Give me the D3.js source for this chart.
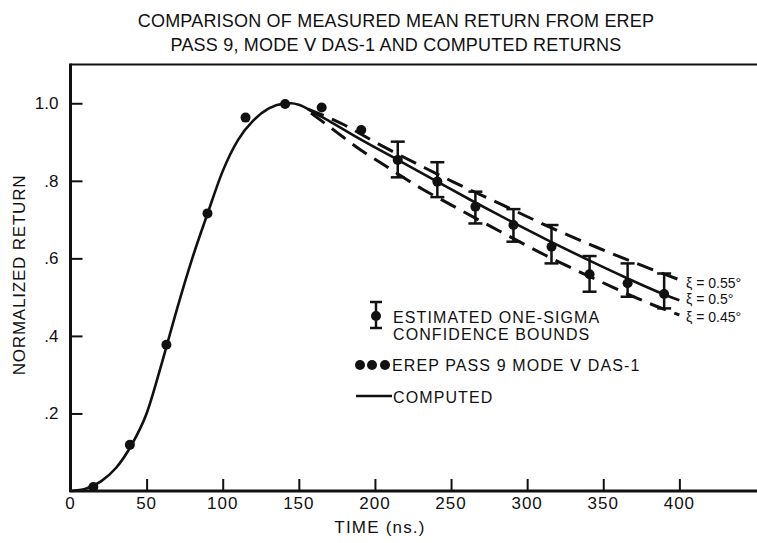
<!DOCTYPE html>
<html>
<head>
<meta charset="utf-8">
<script src="https://cdn.jsdelivr.net/npm/d3@7"></script>
<style>
  body { margin: 0; background: #fff; }
  svg text { font-family: "Liberation Sans", Arial, sans-serif; fill: #111; }
</style>
</head>
<body>
<div id="chart"></div>
<script>
// tick values
const xTicks = [0, 50, 100, 150, 200, 250, 300, 350, 400];
const yTicks = [0.2, 0.4, 0.6, 0.8, 1.0];
const yTickLabels = [".2", ".4", ".6", ".8", "1.0"];

// measured mean return (EREP pass 9, mode V, DAS-1)
const measT = [15, 39, 63, 90, 115, 141, 165, 191, 215, 241, 266, 291, 316, 341, 366, 390];
const measV = [0.010, 0.119, 0.377, 0.716, 0.963, 0.998, 0.989, 0.931, 0.854, 0.798, 0.733, 0.686, 0.630, 0.559, 0.536, 0.508];

// one-sigma confidence bounds
const barT  = [215, 241, 266, 291, 316, 341, 366, 390];
const barLo = [0.809, 0.758, 0.690, 0.643, 0.587, 0.514, 0.501, 0.471];
const barHi = [0.901, 0.848, 0.772, 0.727, 0.686, 0.606, 0.587, 0.561];

// computed return, xi = 0.5 deg
const compT = [0, 10, 20, 30, 40, 50, 60, 70, 80, 90, 100, 110, 120, 130, 140, 145, 150, 160, 170, 190, 215, 240, 265, 290, 315, 340, 365, 390, 400];
const compV = [0, 0.006, 0.025, 0.06, 0.118, 0.2, 0.33, 0.47, 0.6, 0.715, 0.825, 0.905, 0.955, 0.986, 0.999, 1.0, 0.996, 0.976, 0.954, 0.908, 0.854, 0.8, 0.746, 0.694, 0.644, 0.596, 0.55, 0.507, 0.492];

// computed, xi = 0.55 deg
const upT = [156, 180, 200, 233, 251, 282, 313, 346, 368, 391, 400];
const upV = [0.985, 0.944, 0.9, 0.833, 0.798, 0.741, 0.684, 0.628, 0.593, 0.558, 0.545];

// computed, xi = 0.45 deg
const lowT = [158, 175, 189, 204, 231, 250, 282, 312, 355, 382, 400];
const lowV = [0.975, 0.925, 0.884, 0.846, 0.779, 0.738, 0.67, 0.608, 0.528, 0.481, 0.454];

const curveLabels = ["\u03BE = 0.55\u00B0", "\u03BE = 0.5\u00B0", "\u03BE = 0.45\u00B0"];

const W = 757, H = 543;
const svg = d3.select("#chart").append("svg")
    .attr("width", W)
    .attr("height", H);

svg.append("rect").attr("width", W).attr("height", H).attr("fill", "#fff");

const x = d3.scaleLinear().domain([0, 451]).range([70.5, 757]);
const y = d3.scaleLinear().domain([0, 1.1]).range([491, 64.5]);

const ink = "#111";

// frame: top line and axes
svg.append("line")
    .attr("x1", x(0)).attr("x2", W)
    .attr("y1", y(1.1)).attr("y2", y(1.1))
    .attr("stroke", ink).attr("stroke-width", 2);

// x axis, ticks pointing inward
const xAxis = svg.append("g")
    .attr("transform", "translate(0," + y(0) + ")")
    .call(d3.axisTop(x).tickValues(xTicks).tickSize(12).tickFormat(""));
xAxis.select(".domain").remove();
xAxis.selectAll("line").attr("stroke", ink).attr("stroke-width", 2);
svg.append("line")
    .attr("x1", x(0) - 1).attr("x2", W)
    .attr("y1", y(0)).attr("y2", y(0))
    .attr("stroke", ink).attr("stroke-width", 3);

svg.append("g").selectAll("text")
    .data(xTicks)
    .enter().append("text")
    .attr("x", d => x(d))
    .attr("y", y(0) + 18)
    .attr("text-anchor", "middle")
    .style("font-size", "17px")
    .style("letter-spacing", "1px")
    .text(d => d);

// y axis
const yAxis = svg.append("g")
    .attr("transform", "translate(" + x(0) + ",0)")
    .call(d3.axisRight(y).tickValues(yTicks).tickSize(12).tickFormat(""));
yAxis.select(".domain").remove();
yAxis.selectAll("line").attr("stroke", ink).attr("stroke-width", 2);
svg.append("line")
    .attr("x1", x(0)).attr("x2", x(0))
    .attr("y1", y(1.1) - 1).attr("y2", y(0) + 1)
    .attr("stroke", ink).attr("stroke-width", 3);

svg.append("g").selectAll("text")
    .data(yTicks)
    .enter().append("text")
    .attr("x", x(0) - 12)
    .attr("y", d => y(d) + 6)
    .attr("text-anchor", "end")
    .style("font-size", "17px")
    .text((d, i) => yTickLabels[i]);

// titles
svg.append("text")
    .attr("x", 396).attr("y", 27)
    .attr("text-anchor", "middle")
    .style("font-size", "18px")
    .style("letter-spacing", "0.2px")
    .text("COMPARISON OF MEASURED MEAN RETURN FROM EREP");
svg.append("text")
    .attr("x", 396).attr("y", 51)
    .attr("text-anchor", "middle")
    .style("font-size", "18px")
    .style("letter-spacing", "0.2px")
    .text("PASS 9, MODE \u2164 DAS-1 AND COMPUTED RETURNS");

svg.append("text")
    .attr("x", 380).attr("y", 533)
    .attr("text-anchor", "middle")
    .style("font-size", "17px")
    .style("letter-spacing", "1.2px")
    .text("TIME (ns.)");

svg.append("text")
    .attr("transform", "translate(25,275) rotate(-90)")
    .attr("text-anchor", "middle")
    .style("font-size", "17px")
    .style("letter-spacing", "0.8px")
    .text("NORMALIZED RETURN");

// curves
const line = d3.line().x(d => x(d[0])).y(d => y(d[1])).curve(d3.curveMonotoneX);

svg.append("path")
    .datum(d3.zip(compT, compV))
    .attr("d", line)
    .attr("fill", "none").attr("stroke", ink).attr("stroke-width", 2.6);

svg.append("path")
    .datum(d3.zip(upT, upV))
    .attr("d", line)
    .attr("fill", "none").attr("stroke", ink).attr("stroke-width", 3)
    .attr("stroke-dasharray", "17,9");

svg.append("path")
    .datum(d3.zip(lowT, lowV))
    .attr("d", line)
    .attr("fill", "none").attr("stroke", ink).attr("stroke-width", 3)
    .attr("stroke-dasharray", "17,9");

// error bars
const bars = svg.append("g").selectAll("g")
    .data(d3.range(barT.length))
    .enter().append("g");
bars.append("line")
    .attr("x1", i => x(barT[i])).attr("x2", i => x(barT[i]))
    .attr("y1", i => y(barHi[i])).attr("y2", i => y(barLo[i]))
    .attr("stroke", ink).attr("stroke-width", 2.5);
bars.append("line")
    .attr("x1", i => x(barT[i]) - 7).attr("x2", i => x(barT[i]) + 7)
    .attr("y1", i => y(barHi[i])).attr("y2", i => y(barHi[i]))
    .attr("stroke", ink).attr("stroke-width", 2.5);
bars.append("line")
    .attr("x1", i => x(barT[i]) - 7).attr("x2", i => x(barT[i]) + 7)
    .attr("y1", i => y(barLo[i])).attr("y2", i => y(barLo[i]))
    .attr("stroke", ink).attr("stroke-width", 2.5);

// measured points
svg.append("g").selectAll("circle")
    .data(d3.zip(measT, measV))
    .enter().append("circle")
    .attr("cx", d => x(d[0]))
    .attr("cy", d => y(d[1]))
    .attr("r", 5)
    .attr("fill", ink);

// curve labels
svg.append("g").selectAll("text")
    .data(curveLabels)
    .enter().append("text")
    .attr("x", 686)
    .attr("y", (d, i) => [288, 304, 322][i])
    .style("font-size", "14px")
    .text(d => d);

// legend
const lg = svg.append("g");
lg.append("line").attr("x1", 376).attr("x2", 376).attr("y1", 302).attr("y2", 328)
    .attr("stroke", ink).attr("stroke-width", 2.5);
lg.append("line").attr("x1", 370).attr("x2", 382).attr("y1", 302).attr("y2", 302)
    .attr("stroke", ink).attr("stroke-width", 2.5);
lg.append("line").attr("x1", 370).attr("x2", 382).attr("y1", 328).attr("y2", 328)
    .attr("stroke", ink).attr("stroke-width", 2.5);
lg.append("circle").attr("cx", 376).attr("cy", 316).attr("r", 5).attr("fill", ink);
lg.append("text").attr("x", 393).attr("y", 323).style("font-size", "16px").style("letter-spacing", "1.1px")
    .text("ESTIMATED ONE-SIGMA");
lg.append("text").attr("x", 393).attr("y", 340).style("font-size", "16px").style("letter-spacing", "1.1px")
    .text("CONFIDENCE  BOUNDS");

lg.selectAll("circle.d")
    .data([360, 372, 385])
    .enter().append("circle")
    .attr("class", "d")
    .attr("cx", d => d).attr("cy", 365).attr("r", 5).attr("fill", ink);
lg.append("text").attr("x", 392).attr("y", 371).style("font-size", "16px").style("letter-spacing", "1.1px")
    .text("EREP PASS 9 MODE \u2164  DAS-1");

lg.append("line").attr("x1", 356).attr("x2", 392).attr("y1", 396).attr("y2", 396)
    .attr("stroke", ink).attr("stroke-width", 2.5);
lg.append("text").attr("x", 393).attr("y", 403).style("font-size", "16px").style("letter-spacing", "1.1px")
    .text("COMPUTED");
</script>
</body>
</html>
